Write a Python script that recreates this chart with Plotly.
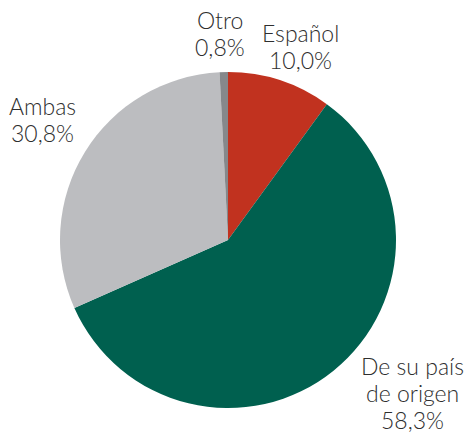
import plotly.graph_objects as go

categories = ["Español", "De su país|de origen", "Ambas", "Otro"]
values = [10.0, 58.3, 30.8, 0.8]
value_labels = ["10,0%", "58,3%", "30,8%", "0,8%"]
colors = ["#C1321F", "#00604F", "#BCBDC0", "#86888B"]

W, H = 464, 437
fig = go.Figure(go.Pie(
    labels=[c.replace("|", " ") for c in categories], values=values, sort=False,
    direction="clockwise", rotation=0, marker=dict(colors=colors, line=dict(width=0)),
    textinfo="none", hoverinfo="label+percent", showlegend=False,
    domain=dict(x=[(228-168)/W, (228+168)/W], y=[(H-408)/H, (H-72)/H]),
))

# label first-line centre in pixels (x, y); lines stacked at a fixed pitch
label_pos = [(300, 33), (412, 366), (42, 106), (220, 20)]
pitch = 27
for cat, lab, (px, py) in zip(categories, value_labels, label_pos):
    lines = cat.split("|") + [lab]
    for i, line in enumerate(lines):
        fig.add_annotation(x=px/W, y=1-(py + i*pitch)/H, xref="paper", yref="paper",
                           text=line, showarrow=False,
                           xanchor="center", yanchor="middle", align="center",
                           font=dict(size=23, color="#2e2e2e", family="Lato", weight=300))

fig.update_layout(width=W, height=H, margin=dict(l=0, r=0, t=0, b=0),
                  paper_bgcolor="white", plot_bgcolor="white")
fig.write_html("out.html", config={"displayModeBar": False},
               post_script="document.body.style.margin='0';")
